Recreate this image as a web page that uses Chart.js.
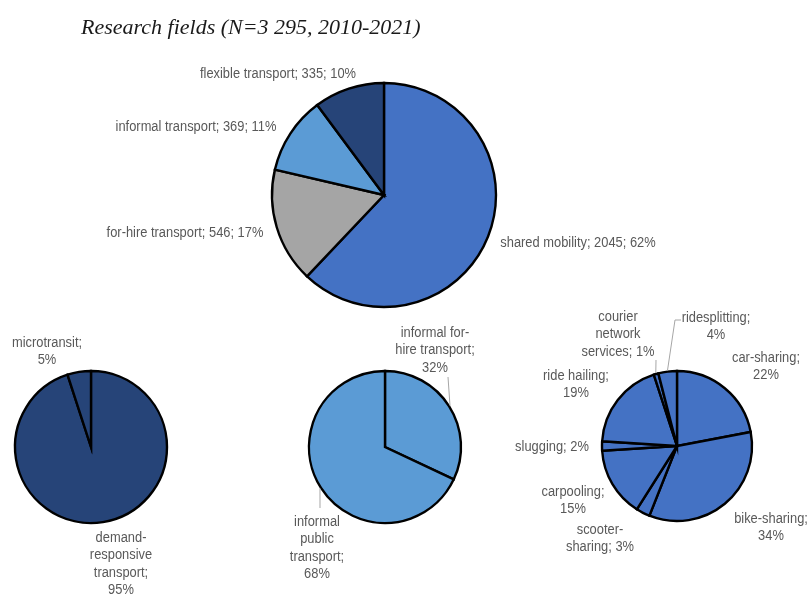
<!DOCTYPE html>
<html>
<head>
<meta charset="utf-8">
<script src="https://cdn.jsdelivr.net/npm/chart.js@4.4.1/dist/chart.umd.min.js"></script>
<style>
  html, body { margin: 0; padding: 0; background: #ffffff; }
  #wrap { position: relative; width: 809px; height: 595px; overflow: hidden; background: #ffffff; }
  #wrap canvas { position: absolute; left: 0; top: 0; }
</style>
</head>
<body>
<div id="wrap">
  <canvas id="fields" width="809" height="595"></canvas>
  <canvas id="flexible" width="809" height="595"></canvas>
  <canvas id="informal" width="809" height="595"></canvas>
  <canvas id="shared" width="809" height="595"></canvas>
</div>
<script>
// ---- data ----
const chartTitle = 'Research fields (N=3 295, 2010-2021)';

const fieldNames  = ['shared mobility', 'for-hire transport', 'informal transport', 'flexible transport'];
const fieldCounts = [2045, 546, 369, 335];
const fieldShares = [62, 17, 11, 10];

const flexibleNames  = ['demand-responsive transport', 'microtransit'];
const flexibleShares = [95, 5];

const informalNames  = ['informal for-hire transport', 'informal public transport'];
const informalShares = [32, 68];

const sharedNames  = ['car-sharing', 'bike-sharing', 'scooter-sharing', 'carpooling', 'slugging',
                      'ride hailing', 'courier network services', 'ridesplitting'];
const sharedShares = [22, 34, 3, 15, 2, 19, 1, 4];

// ---- styling ----
const W = 809, H = 595;
const NAVY = '#264478', BLUE = '#4472C4', SKY = '#5B9BD5', GREY = '#A5A5A5';
const LABEL_FONT = '14px "Liberation Sans Narrow", "Arial Narrow", "Liberation Sans", Arial, sans-serif';
const LABEL_SQUEEZE = 0.92;   // condensed look for the slice labels
const LABEL_COLOR = '#595959';
const LEADER_COLOR = '#A6A6A6';
const LINE_H = 17.5;

// Split a label after the given tokens, in order.
function wrapAfter(text, breaks) {
  const lines = [];
  let rest = text;
  (breaks || []).forEach(tok => {
    const i = rest.indexOf(tok);
    if (i >= 0) {
      lines.push(rest.slice(0, i + tok.length).trim());
      rest = rest.slice(i + tok.length).trim();
    }
  });
  lines.push(rest);
  return lines;
}

// Labels and leader lines, placed around the arcs drawn by the pie controller.
const pieLabels = {
  id: 'pieLabels',
  afterDatasetsDraw(chart, args, opts) {
    const ctx = chart.ctx;
    const arcs = chart.getDatasetMeta(0).data;
    ctx.save();
    // leader lines run from a point near the label to the rim of its slice
    (opts.items || []).forEach((it, i) => {
      if (!it.leader) return;
      const a = arcs[i];
      const mid = (a.startAngle + a.endAngle) / 2;
      const ex = a.x + Math.cos(mid) * (a.outerRadius + 1);
      const ey = a.y + Math.sin(mid) * (a.outerRadius + 1);
      ctx.beginPath();
      ctx.strokeStyle = LEADER_COLOR;
      ctx.lineWidth = 1;
      ctx.moveTo(it.leader[0][0], it.leader[0][1]);
      for (let k = 1; k < it.leader.length; k++) ctx.lineTo(it.leader[k][0], it.leader[k][1]);
      ctx.lineTo(ex, ey);
      ctx.stroke();
    });
    ctx.font = LABEL_FONT;
    ctx.fillStyle = LABEL_COLOR;
    ctx.textAlign = 'center';
    ctx.textBaseline = 'middle';
    (opts.items || []).forEach((it, i) => {
      const lines = wrapAfter(opts.texts[i], it.breaks);
      lines.forEach((ln, k) => {
        ctx.save();
        ctx.translate(it.x, it.y + k * LINE_H);
        ctx.scale(LABEL_SQUEEZE, 1);
        ctx.fillText(ln, 0, 0);
        ctx.restore();
      });
    });
    ctx.restore();
  }
};

// Chart title, set in an italic serif above the main pie.
const titlePlugin = {
  id: 'titleText',
  afterDraw(chart, args, opts) {
    if (!opts.text) return;
    const ctx = chart.ctx;
    ctx.save();
    ctx.font = 'italic 22px "Liberation Serif", "Times New Roman", serif';
    ctx.fillStyle = '#1a1a1a';
    ctx.textAlign = 'left';
    ctx.textBaseline = 'alphabetic';
    ctx.fillText(opts.text, opts.x, opts.y);
    ctx.restore();
  }
};

function makePie(id, names, values, colors, place, texts, items, title) {
  const s = place.r + 4;
  return new Chart(document.getElementById(id), {
    type: 'pie',
    data: {
      labels: names,
      datasets: [{
        data: values,
        backgroundColor: colors,
        borderColor: '#000000',
        borderWidth: 2.4,
        borderJoinStyle: 'miter'
      }]
    },
    options: {
      responsive: false,
      animation: false,
      events: [],
      radius: place.r,
      layout: { padding: { left: place.cx - s, right: W - place.cx - s, top: place.cy - s, bottom: H - place.cy - s } },
      plugins: {
        legend: { display: false },
        tooltip: { enabled: false },
        pieLabels: { texts: texts, items: items },
        titleText: title || {}
      }
    },
    plugins: [pieLabels, titlePlugin]
  });
}

// main pie: all research fields
makePie('fields', fieldNames, fieldCounts, [BLUE, GREY, SKY, NAVY],
  { cx: 384, cy: 195, r: 112 },
  fieldNames.map((n, i) => `${n}; ${fieldCounts[i]}; ${fieldShares[i]}%`),
  [
    { x: 578, y: 243 },
    { x: 185, y: 233 },
    { x: 196, y: 127 },
    { x: 278, y: 74 }
  ],
  { text: chartTitle, x: 81, y: 34 });

// flexible transport breakdown
makePie('flexible', flexibleNames, flexibleShares, [NAVY, NAVY],
  { cx: 91, cy: 447, r: 76 },
  flexibleNames.map((n, i) => `${n}; ${flexibleShares[i]}%`),
  [
    { x: 121, y: 538, breaks: ['demand-', 'responsive', 'transport;'] },
    { x: 47, y: 343, breaks: ['microtransit;'] }
  ]);

// informal transport breakdown
makePie('informal', informalNames, informalShares, [SKY, SKY],
  { cx: 385, cy: 447, r: 76 },
  informalNames.map((n, i) => `${n}; ${informalShares[i]}%`),
  [
    { x: 435, y: 333, breaks: ['for-', 'transport;'], leader: [[448, 377]] },
    { x: 317, y: 522, breaks: ['informal', 'public', 'transport;'], leader: [[320, 508]] }
  ]);

// shared mobility breakdown
makePie('shared', sharedNames, sharedShares, Array(sharedNames.length).fill(BLUE),
  { cx: 677, cy: 446, r: 75 },
  sharedNames.map((n, i) => `${n}; ${sharedShares[i]}%`),
  [
    { x: 766, y: 358, breaks: ['car-sharing;'] },
    { x: 771, y: 519, breaks: ['bike-sharing;'] },
    { x: 600, y: 530, breaks: ['scooter-'] },
    { x: 573, y: 492, breaks: ['carpooling;'] },
    { x: 552, y: 447 },
    { x: 576, y: 376, breaks: ['ride hailing;'] },
    { x: 618, y: 317, breaks: ['courier', 'network'], leader: [[656, 360]] },
    { x: 716, y: 318, breaks: ['ridesplitting;'], leader: [[681, 320], [675, 320]] }
  ]);
</script>
</body>
</html>
